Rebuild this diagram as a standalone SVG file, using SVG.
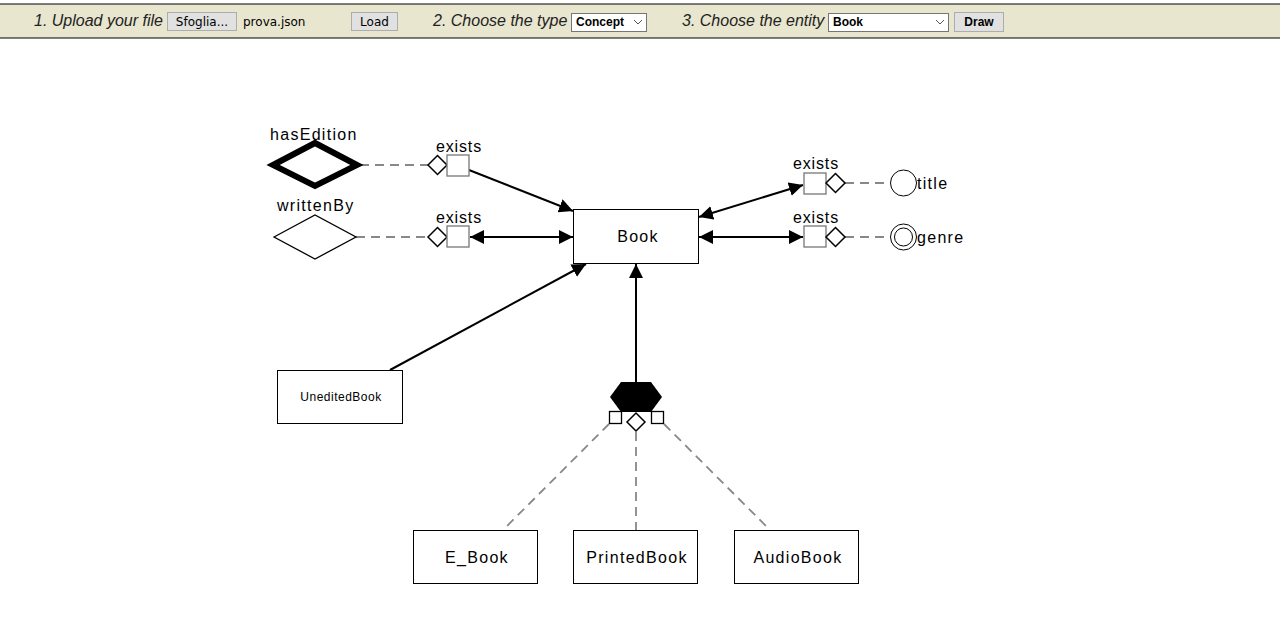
<svg xmlns="http://www.w3.org/2000/svg" width="1280" height="623" viewBox="0 0 1280 623">
<defs>
<marker id="ah" viewBox="0 0 10 10" refX="10" refY="5" markerWidth="14" markerHeight="14" markerUnits="userSpaceOnUse" orient="auto-start-reverse">
<path d="M0,0 L10,5 L0,10 z" fill="#000"/>
</marker>
</defs>
<style>
.hdr{font-family:"Liberation Sans",Arial,sans-serif;font-size:16px;font-style:italic;fill:#222}
.btn{fill:#e1e1e1;stroke:#adadad;stroke-width:1}
.btxt{font-family:"DejaVu Sans",Verdana,sans-serif;font-size:12px;fill:#000}
.sel{fill:#fff;stroke:#767676;stroke-width:1}
.stxt{font-family:"Liberation Sans",Arial,sans-serif;font-size:12px;font-weight:bold;fill:#000}
.lbl{font-family:"Liberation Sans",Arial,sans-serif;font-size:16px;fill:#000;letter-spacing:1.3px}
.ex{letter-spacing:0.85px}
.ent{fill:#fff;stroke:#000;stroke-width:1}
.sq{fill:#fff;stroke:#777;stroke-width:1.3}
.dm{fill:#fff;stroke:#000;stroke-width:1.5}
.dash{stroke:#888;stroke-width:1.8;stroke-dasharray:9,6;fill:none}
.arr{stroke:#000;stroke-width:2;fill:none}
</style>
<rect x="0" y="0" width="1280" height="623" fill="#fff"/>
<g id="toolbar">
<rect x="-1" y="4" width="1282" height="34" fill="#e8e6cf" stroke="#000" stroke-width="1"/>
<text class="hdr" x="34" y="26">1. Upload your file</text>
<rect class="btn" x="167.5" y="12.5" width="69" height="18"/>
<text class="btxt" x="202" y="26" text-anchor="middle">Sfoglia...</text>
<text class="btxt" x="243" y="26">prova.json</text>
<rect class="btn" x="351.5" y="12.5" width="46" height="18"/>
<text class="btxt" x="374.5" y="26" text-anchor="middle">Load</text>
<text class="hdr" x="433" y="26">2. Choose the type</text>
<rect class="sel" x="571.5" y="13.5" width="75" height="18"/>
<text class="stxt" x="576" y="26">Concept</text>
<path d="M634,20 l4,4 l4,-4" fill="none" stroke="#555" stroke-width="1"/>
<text class="hdr" x="682" y="26">3. Choose the entity</text>
<rect class="sel" x="828.5" y="13.5" width="120" height="18"/>
<text class="stxt" x="833" y="26">Book</text>
<path d="M936,20 l4,4 l4,-4" fill="none" stroke="#555" stroke-width="1"/>
<rect class="btn" x="954.5" y="12.5" width="49" height="19"/>
<text class="stxt" x="979" y="26" text-anchor="middle">Draw</text>
</g>
<g id="connectors">
<line class="dash" x1="360" y1="165" x2="428" y2="165"/>
<line class="dash" x1="356" y1="237" x2="428" y2="237"/>
<line class="dash" x1="845" y1="183" x2="890" y2="183"/>
<line class="dash" x1="845" y1="237" x2="890" y2="237"/>
<line class="arr" x1="469" y1="170" x2="573" y2="211" marker-end="url(#ah)"/>
<line class="arr" x1="470" y1="237" x2="573" y2="237" marker-start="url(#ah)" marker-end="url(#ah)"/>
<line class="arr" x1="699" y1="217" x2="803" y2="185" marker-start="url(#ah)" marker-end="url(#ah)"/>
<line class="arr" x1="699" y1="237" x2="803" y2="237" marker-start="url(#ah)" marker-end="url(#ah)"/>
<line class="arr" x1="390" y1="370" x2="586" y2="264" marker-end="url(#ah)"/>
<line class="arr" x1="636" y1="382" x2="636" y2="264" marker-end="url(#ah)"/>
<line class="dash" x1="609" y1="424" x2="503" y2="530"/>
<line class="dash" x1="636" y1="432" x2="636" y2="530"/>
<line class="dash" x1="664" y1="424" x2="770" y2="530"/>
</g>
<g id="hasEdition">
<polygon points="273,165 315,143 357,165 315,186" fill="#fff" stroke="#000" stroke-width="6"/>
<text class="lbl" x="270" y="140">hasEdition</text>
</g>
<g id="exists1">
<polygon class="dm" points="428,165 437.5,155.5 447,165 437.5,174.5"/>
<rect class="sq" x="447" y="155" width="22" height="21"/>
<text class="lbl ex" x="436" y="152">exists</text>
</g>
<g id="writtenBy">
<polygon points="274,237 315,215 356,237 315,259" fill="#fff" stroke="#000" stroke-width="1.3"/>
<text class="lbl" x="277" y="211">writtenBy</text>
</g>
<g id="exists2">
<polygon class="dm" points="428,237 437.5,227.5 447,237 437.5,246.5"/>
<rect class="sq" x="447" y="226" width="22" height="21"/>
<text class="lbl ex" x="436" y="223">exists</text>
</g>
<g id="Book">
<rect class="ent" x="573.5" y="209.5" width="125" height="54"/>
<text class="lbl" x="638" y="242" text-anchor="middle">Book</text>
</g>
<g id="exists3">
<rect class="sq" x="804" y="173" width="22" height="21"/>
<polygon class="dm" points="826,183 835.5,173.5 845,183 835.5,192.5"/>
<text class="lbl ex" x="793" y="169">exists</text>
</g>
<g id="title">
<circle cx="903.5" cy="183" r="13" fill="#fff" stroke="#000" stroke-width="1"/>
<text class="lbl" x="917" y="189">title</text>
</g>
<g id="exists4">
<rect class="sq" x="804" y="226" width="22" height="21"/>
<polygon class="dm" points="826,237 835.5,227.5 845,237 835.5,246.5"/>
<text class="lbl ex" x="793" y="223">exists</text>
</g>
<g id="genre">
<circle cx="903.5" cy="237" r="13" fill="#fff" stroke="#000" stroke-width="1"/>
<circle cx="903.5" cy="237" r="9" fill="#fff" stroke="#000" stroke-width="1"/>
<text class="lbl" x="917" y="243">genre</text>
</g>
<g id="UneditedBook">
<rect class="ent" x="277.5" y="370.5" width="125" height="53"/>
<text x="341" y="401" text-anchor="middle" font-family="'Liberation Sans',Arial,sans-serif" font-size="12px" letter-spacing="0.5px">UneditedBook</text>
</g>
<g id="generalization">
<polygon points="621,382 651,382 662,397 651,412 621,412 610,397" fill="#000"/>
<rect x="609.5" y="411.5" width="12" height="12" fill="#fff" stroke="#000" stroke-width="1.3"/>
<rect x="651.5" y="411.5" width="12" height="12" fill="#fff" stroke="#000" stroke-width="1.3"/>
<polygon class="dm" points="627,422 636,413 645,422 636,431"/>
</g>
<g id="E_Book">
<rect class="ent" x="413.5" y="530.5" width="124" height="53"/>
<text class="lbl" x="477" y="563" text-anchor="middle">E_Book</text>
</g>
<g id="PrintedBook">
<rect class="ent" x="573.5" y="530.5" width="124" height="53"/>
<text class="lbl" x="637" y="563" text-anchor="middle">PrintedBook</text>
</g>
<g id="AudioBook">
<rect class="ent" x="734.5" y="530.5" width="124" height="53"/>
<text class="lbl" x="798" y="563" text-anchor="middle">AudioBook</text>
</g>
</svg>
